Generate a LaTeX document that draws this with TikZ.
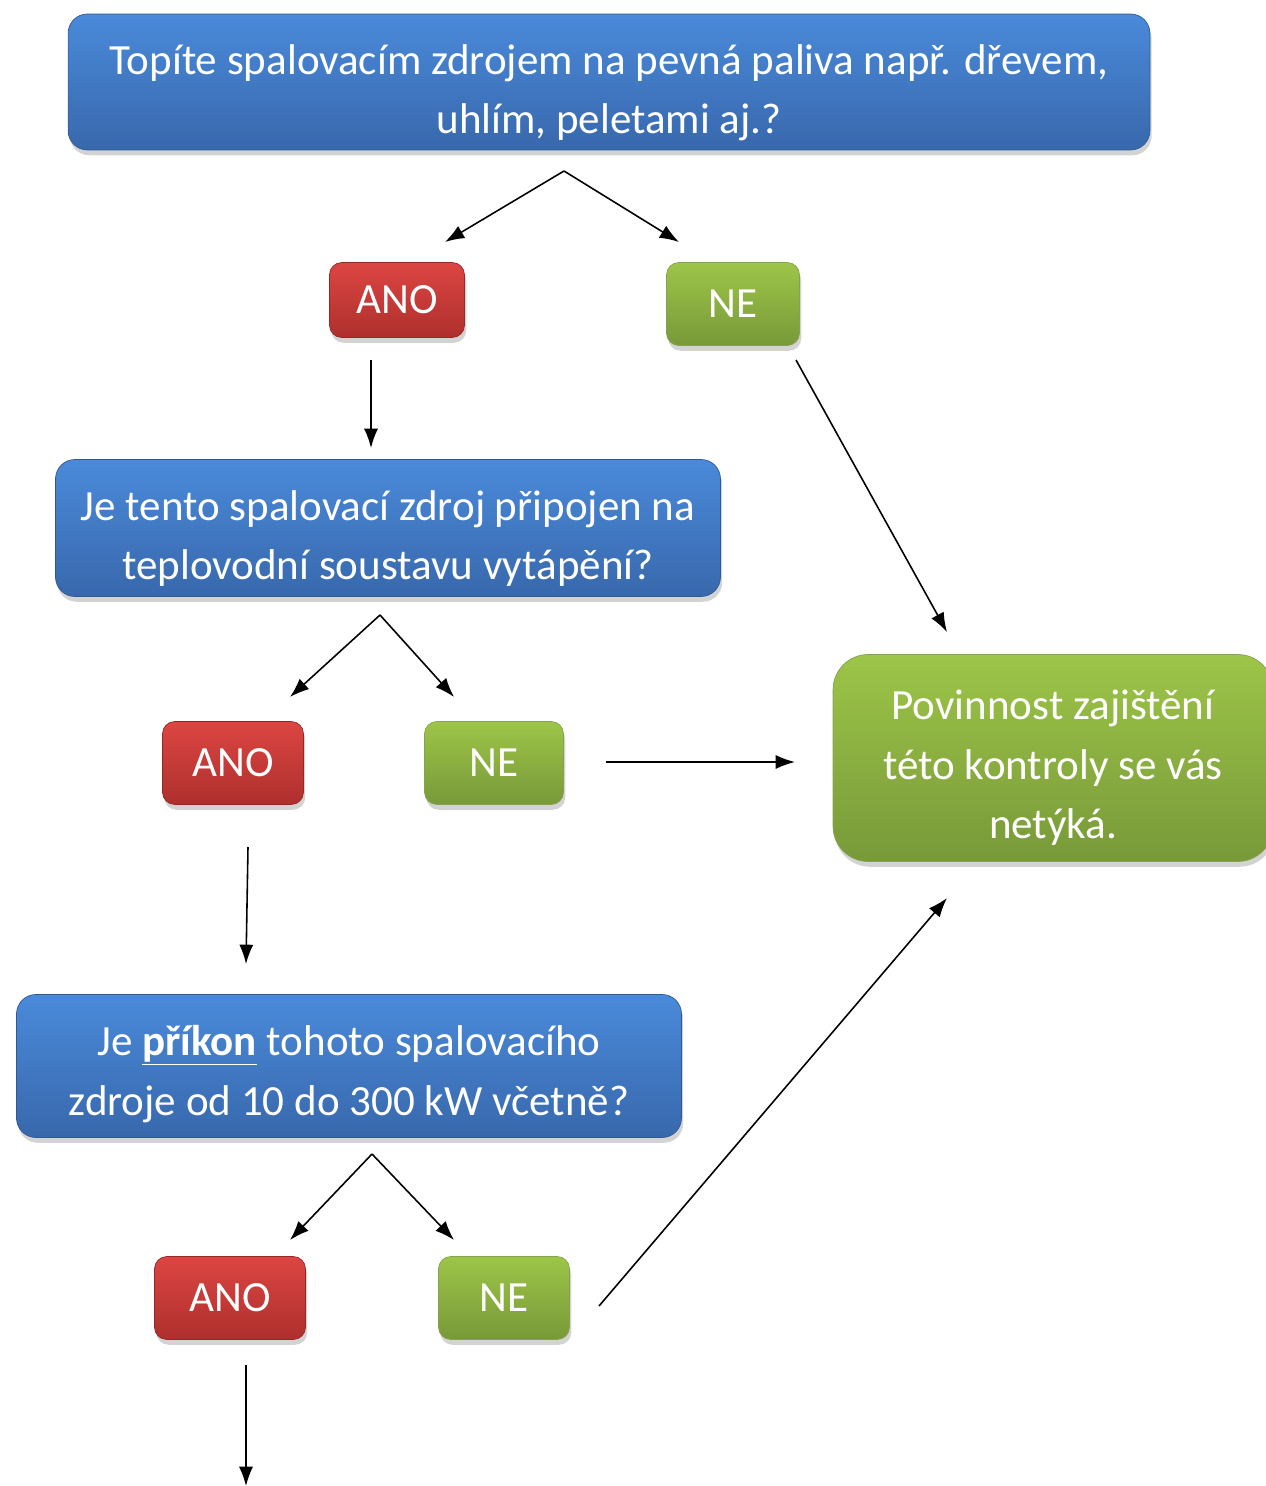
\documentclass[tikz,border=0pt]{standalone}
\usepackage{fontspec}
\setmainfont{Carlito}
\usetikzlibrary{arrows.meta, shadows}

\definecolor{qtop}{HTML}{4A8ADA}
\definecolor{qbot}{HTML}{3868AC}
\definecolor{rtop}{HTML}{DC4642}
\definecolor{rbot}{HTML}{AE2F2D}
\definecolor{gtop}{HTML}{9DC548}
\definecolor{gbot}{HTML}{789939}

\begin{document}
\begin{tikzpicture}[x=0.02cm, y=-0.02cm, font=\fontsize{24.5}{34.1}\selectfont,
    box/.style={rounded corners=11pt, text=white, align=center, inner sep=0pt,
      drop shadow={shadow xshift=1pt, shadow yshift=-3pt, opacity=0.35}},
    question/.style={box, top color=qtop, bottom color=qbot, draw=qbot!85!black},
    yes/.style={box, rounded corners=7pt, top color=rtop, bottom color=rbot, draw=rbot!85!black},
    no/.style={box, rounded corners=7pt, top color=gtop, bottom color=gbot, draw=gbot!90!white},
    flow/.style={-{Latex[length=11pt, width=8pt]}, line width=0.9pt}]
    \useasboundingbox (0,0) rectangle (1266,1486);

    \coordinate (Q1) at (609,82);
    \coordinate (Q2) at (388,528);
    \coordinate (Q3) at (349,1066);

    \coordinate (Y1) at (397,300);
    \coordinate (N1) at (733,304);
    \coordinate (Y2) at (233,763);
    \coordinate (N2) at (494,763);
    \coordinate (Y3) at (230,1298);
    \coordinate (N3) at (504,1298);

    \coordinate (R) at (1053,758);

    \node[question, minimum width=21.64cm, minimum height=2.72cm,
      text height=2.4cm, text depth=0.32cm] (q1) at (Q1)
      {Topíte spalovacím zdrojem na pevná paliva např. dřevem,\\uhlím, peletami aj.?};
    \node[question, minimum width=13.3cm, minimum height=2.74cm,
      text height=2.4cm, text depth=0.32cm] (q2) at (Q2)
      {Je tento spalovací zdroj připojen na\\teplovodní soustavu vytápění?};
    \node[question, minimum width=13.3cm, minimum height=2.86cm,
      text height=2.3cm, text depth=0.34cm] (q3) at (Q3)
      {Je \underline{\textbf{příkon}} tohoto spalovacího\\zdroje od 10 do 300 kW včetně?};

    \node[yes, minimum width=2.7cm, minimum height=1.5cm] (y1) at (Y1) {ANO};
    \node[no, minimum width=2.66cm, minimum height=1.66cm] (n1) at (N1) {NE};
    \node[yes, minimum width=2.82cm, minimum height=1.66cm] (y2) at (Y2) {ANO};
    \node[no, minimum width=2.78cm, minimum height=1.66cm] (n2) at (N2) {NE};
    \node[yes, minimum width=3.02cm, minimum height=1.66cm] (y3) at (Y3) {ANO};
    \node[no, minimum width=2.62cm, minimum height=1.66cm] (n3) at (N3) {NE};

    \node[no, rounded corners=20pt, minimum width=8.8cm, minimum height=4.14cm,
      text height=3.6cm, text depth=0.36cm] (r) at (R)
      {Povinnost zajištění\\této kontroly se vás\\netýká.};

    % ends of the arrows
    \coordinate (a1) at (564,171);
    \coordinate (a1y) at (445,242);
    \coordinate (a1n) at (679,242);
    \coordinate (b1) at (371,360);
    \coordinate (b1e) at (371,448);
    \coordinate (c1) at (796,360);
    \coordinate (c1e) at (947,632);

    \coordinate (a2) at (380,615);
    \coordinate (a2y) at (290,697);
    \coordinate (a2n) at (454,697);
    \coordinate (b2) at (248,847);
    \coordinate (b2e) at (246,964);
    \coordinate (c2) at (606,762);
    \coordinate (c2e) at (795,762);

    \coordinate (a3) at (372,1154);
    \coordinate (a3y) at (290,1240);
    \coordinate (a3n) at (454,1240);
    \coordinate (b3) at (246,1365);
    \coordinate (b3e) at (246,1486);
    \coordinate (c3) at (599,1306);
    \coordinate (c3e) at (947,898);

    \draw[flow] (a1) -- (a1y);
    \draw[flow] (a1) -- (a1n);
    \draw[flow] (b1) -- (b1e);
    \draw[flow] (c1) -- (c1e);

    \draw[flow] (a2) -- (a2y);
    \draw[flow] (a2) -- (a2n);
    \draw[flow] (b2) -- (b2e);
    \draw[flow] (c2) -- (c2e);

    \draw[flow] (a3) -- (a3y);
    \draw[flow] (a3) -- (a3n);
    \draw[flow] (b3) -- (b3e);
    \draw[flow] (c3) -- (c3e);
  \end{tikzpicture}
\end{document}
